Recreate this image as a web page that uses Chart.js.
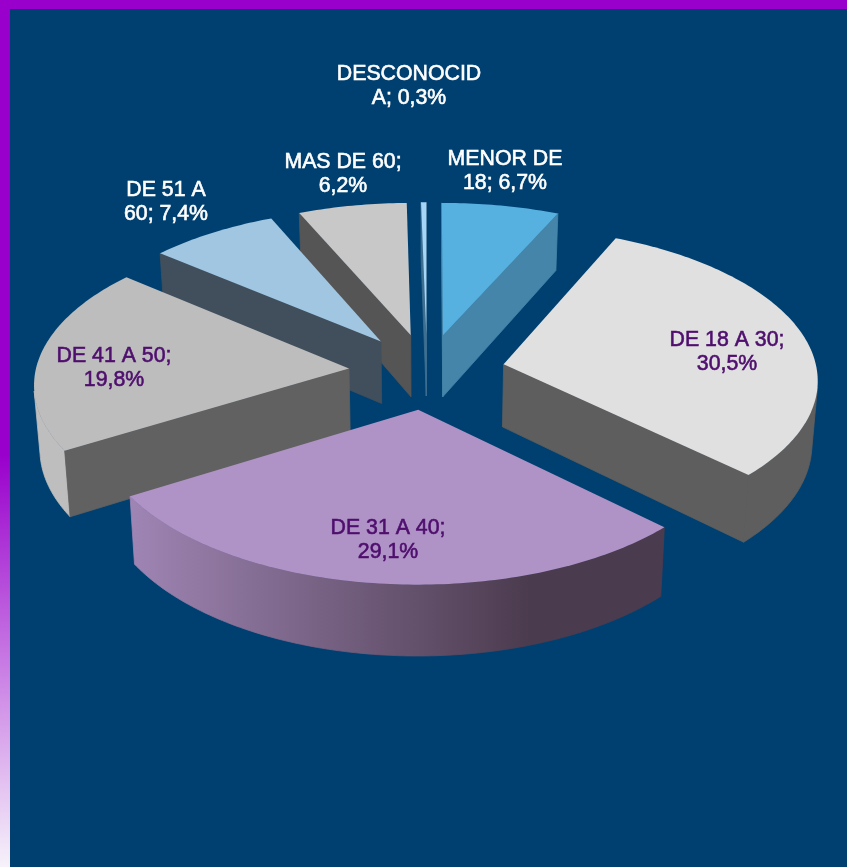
<!DOCTYPE html>
<html>
<head>
<meta charset="utf-8">
<title>Edades</title>
<script src="https://cdn.jsdelivr.net/npm/chart.js@4/dist/chart.umd.js"></script>
<style>
html, body { margin: 0; padding: 0; width: 847px; height: 867px; overflow: hidden; }
body { background: linear-gradient(to bottom, #9900cc 0, #9900cc 455px, #f6f2fa 867px); }
#panel { position: absolute; left: 10px; top: 9px; right: 0; bottom: 0; background: #004070; }
#chart { position: absolute; left: 0; top: 0; }
</style>
</head>
<body>
<div id="panel"></div>
<canvas id="chart" width="847" height="867"></canvas>
<script>
// categories and values, in the order of the pie (clockwise from the top)
var categories = ['MENOR DE 18', 'DE 18 A 30', 'DE 31 A 40', 'DE 41 A 50', 'DE 51 A 60', 'MAS DE 60', 'DESCONOCIDA'];
var percents = [6.7, 30.5, 29.1, 19.8, 7.4, 6.2, 0.3];
// where the label text wraps, in characters
var labelBreaks = [9, 11, 11, 11, 8, 10, 10];

var topColors = ['#57b1e0', '#e0e0e0', '#b093c6', '#bdbdbd', '#a1c6e1', '#c8c8c8', '#a5d5f7'];
var faceColors = ['#4585aa', '#5e5e5e', '#4b3b4e', '#616161', '#414f5c', '#555555', '#3f6f90'];
var rimColors = [['#4585aa', '#4585aa'], ['#5e5e5e', '#5e5e5e'], ['#9f85b4', '#4b3b4e'],
  ['#bebebe', '#a2a2a2'], ['#414f5c', '#414f5c'], ['#555555', '#555555'], ['#3f6f90', '#3f6f90']];
var labelColors = ['#ffffff', '#4f0f6e', '#4f0f6e', '#4f0f6e', '#ffffff', '#ffffff', '#ffffff'];
var labelSpots = [[505, 159], [727, 340], [388, 528], [114, 356], [166, 190], [343, 162], [409, 74]];

// the pie plane seen in perspective
var explode = 0.25, midX = 427, midY = 371.3, radiusX = 313.5, tiltY = -116.4;
var perspX = 0.09, perspY = 0.0932;
var thickness = 63, shrink = 0.985;

function project(u, v, low) {
  var x = radiusX * u / (1 + perspX * v);
  var w = 1 + perspY * v;
  return {
    x: midX + (low ? x * shrink : x),
    y: (midY + tiltY * v) / w + (low ? thickness / w : 0)
  };
}

function cross(a, b, c) {
  return (b.x - a.x) * (c.y - a.y) - (b.y - a.y) * (c.x - a.x);
}

function fillPoly(ctx, pts, color, seal) {
  ctx.beginPath();
  pts.forEach(function(p, i) { if (i) ctx.lineTo(p.x, p.y); else ctx.moveTo(p.x, p.y); });
  ctx.closePath();
  ctx.fillStyle = color;
  ctx.fill();
  // closes the hairline between neighbouring walls
  if (seal) {
    ctx.strokeStyle = color;
    ctx.lineWidth = 0.8;
    ctx.stroke();
  }
}

function drawSlice(ctx, arc, i) {
  // chart.js angles start at the right, ours at the top of the pie
  var a0 = arc.startAngle + Math.PI / 2, a1 = arc.endAngle + Math.PI / 2;
  var mid = (a0 + a1) / 2;
  var tu = explode * Math.sin(mid), tv = explode * Math.cos(mid);
  var tip = project(tu, tv), tipLow = project(tu, tv, true);
  var steps = Math.max(2, Math.ceil((a1 - a0) * 60));
  var top = [], low = [];
  for (var s = 0; s <= steps; s++) {
    var a = a0 + (a1 - a0) * s / steps;
    top.push(project(tu + Math.sin(a), tv + Math.cos(a)));
    low.push(project(tu + Math.sin(a), tv + Math.cos(a), true));
  }
  var midTop = top[Math.floor(steps / 2)];

  // outer wall, only the part that looks at the viewer
  var front = [], back = [];
  for (s = 0; s < steps; s++) {
    if (cross(top[s], top[s + 1], tip) * cross(top[s], top[s + 1], low[s]) < 0) {
      if (!front.length) { front.push(top[s]); back.push(low[s]); }
      front.push(top[s + 1]);
      back.push(low[s + 1]);
    }
  }
  if (front.length) {
    var g = ctx.createLinearGradient(top[0].x < top[steps].x ? top[0].x : top[steps].x, 0,
      top[0].x < top[steps].x ? top[steps].x : top[0].x, 0);
    g.addColorStop(0, rimColors[i][0]);
    g.addColorStop(0.75, rimColors[i][1]);
    g.addColorStop(1, rimColors[i][1]);
    fillPoly(ctx, front.concat(back.reverse()), g, true);
  }

  // the two cut faces
  [[top[0], low[0]], [top[steps], low[steps]]].forEach(function(e) {
    if (cross(tip, e[0], midTop) * cross(tip, e[0], tipLow) < 0) {
      fillPoly(ctx, [tip, e[0], e[1], tipLow], faceColors[i], true);
    }
  });

  fillPoly(ctx, [tip].concat(top), arc.options.backgroundColor);
}

var piePlugin = {
  id: 'pie3d',
  beforeDatasetsDraw: function(chart) {
    var ctx = chart.ctx;
    var arcs = chart.getDatasetMeta(0).data;
    var order = arcs.map(function(a, i) { return i; });
    order.sort(function(p, q) {
      var mp = (arcs[p].startAngle + arcs[p].endAngle) / 2 + Math.PI / 2;
      var mq = (arcs[q].startAngle + arcs[q].endAngle) / 2 + Math.PI / 2;
      return Math.cos(mq) - Math.cos(mp);
    });
    ctx.save();
    order.forEach(function(i) { drawSlice(ctx, arcs[i], i); });
    ctx.restore();

    // data labels
    ctx.save();
    ctx.font = '21.3px "Liberation Sans", Arial, sans-serif';
    ctx.textAlign = 'center';
    ctx.textBaseline = 'middle';
    categories.forEach(function(cat, i) {
      var text = cat + '; ' + percents[i].toFixed(1).replace('.', ',') + '%';
      var lines = [text.slice(0, labelBreaks[i]).trim(), text.slice(labelBreaks[i]).trim()];
      ctx.fillStyle = labelColors[i];
      ctx.strokeStyle = labelColors[i];
      ctx.lineWidth = 0.6;
      lines.forEach(function(line, n) {
        ctx.fillText(line, labelSpots[i][0], labelSpots[i][1] + n * 24);
        ctx.strokeText(line, labelSpots[i][0], labelSpots[i][1] + n * 24);
      });
    });
    ctx.restore();
    return false;
  }
};

new Chart(document.getElementById('chart').getContext('2d'), {
  type: 'pie',
  data: {
    labels: categories,
    datasets: [{ data: percents, backgroundColor: topColors, borderWidth: 0 }]
  },
  options: {
    responsive: false,
    animation: false,
    devicePixelRatio: 1,
    plugins: { legend: { display: false }, tooltip: { enabled: false } }
  },
  plugins: [piePlugin]
});
</script>
</body>
</html>
